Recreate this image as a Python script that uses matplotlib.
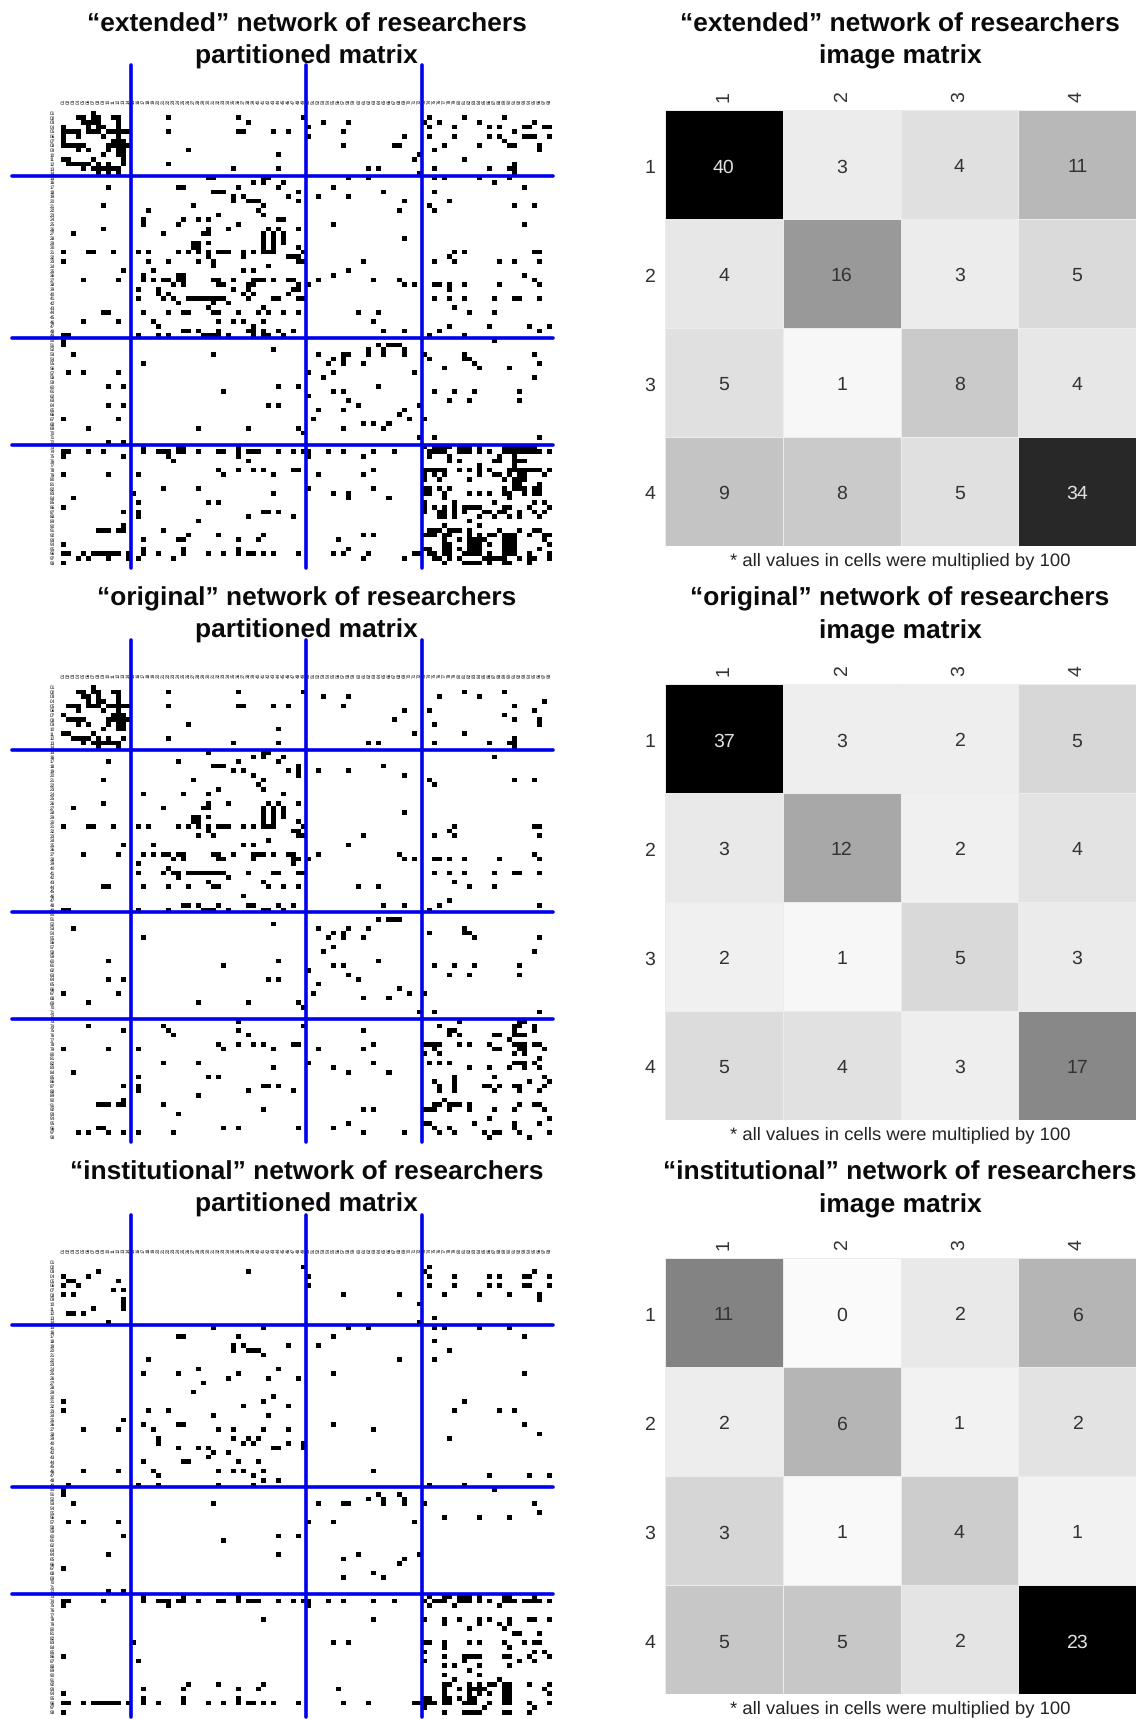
import numpy as np
import matplotlib
matplotlib.use("Agg")
import matplotlib.pyplot as plt

plt.rcParams['font.family'] = ['Liberation Sans', 'DejaVu Sans']
plt.rcParams['text.hinting'] = 'none'

W, H = 1137, 1719
N = 98

# ties per row: row index -> columns with a tie
ext_ties = {
    0: [6], 1: [3, 4, 6, 7, 10, 11, 21, 35, 48, 73, 80, 88],
    2: [4, 5, 6, 7, 11, 37, 52, 57, 72, 75, 83, 94],
    3: [0, 5, 7, 8, 11, 49, 73, 78, 85, 87, 92, 93, 96, 97],
    4: [0, 1, 2, 3, 5, 6, 7, 9, 10, 11, 12, 13, 21, 35, 36, 42, 45, 56, 90],
    5: [0, 3, 8, 11, 49, 68, 73, 78, 85, 87, 92, 93, 94, 97],
    6: [0, 10, 11, 12, 88],
    7: [0, 1, 2, 3, 4, 9, 10, 11, 12, 13, 56, 66, 67, 76, 83, 89, 90, 95],
    8: [3, 5, 9, 11, 12, 25, 74, 95], 9: [8, 11, 12, 43, 71],
    10: [0, 1, 6, 12, 70, 80], 11: [1, 2, 3, 4, 5, 7, 9, 12, 21, 90],
    12: [4, 6, 7, 8, 9, 10, 11, 34, 43, 61, 63, 74, 85, 89, 90],
    13: [7, 9, 11, 71, 90], 14: [29, 30, 40, 41, 57, 61, 74, 76, 83, 89],
    15: [38, 40, 44, 86], 16: [9, 23, 24, 35, 43, 54, 92],
    17: [30, 31, 32, 47, 64, 74], 18: [34, 36, 45, 51, 57],
    19: [34, 37, 38, 39, 47, 68, 77], 20: [8, 26, 40, 73, 90, 94],
    21: [17, 39, 67, 74], 22: [31, 40], 23: [16, 24, 27, 29, 43, 44],
    24: [16, 23, 35, 54, 92], 25: [8, 29, 33, 41, 43, 47],
    26: [2, 20, 28, 29, 40, 42, 44], 27: [40, 42, 44, 68],
    28: [26, 27, 29, 40, 42, 44], 29: [26, 27, 40, 42, 47],
    30: [0, 5, 6, 10, 15, 17, 23, 25, 27, 29, 31, 32, 33, 36, 38, 40, 41, 42, 48, 78, 80, 94, 95],
    31: [29, 36, 45, 46, 47, 77],
    32: [0, 17, 21, 27, 30, 47, 48, 60, 74, 78, 87, 90, 95],
    33: [30, 41], 34: [12, 18, 36, 38, 57], 35: [16, 23, 24, 54, 92],
    36: [4, 11, 16, 18, 20, 21, 23, 24, 30, 31, 34, 38, 39, 40, 42, 45, 46, 51, 62, 67, 94],
    37: [22, 24, 31, 32, 37, 38, 47, 49, 68, 70, 74, 75, 77, 80, 87, 95],
    38: [15, 19, 34, 37, 46, 47, 77], 39: [19, 21, 36, 38, 45],
    40: [15, 20, 22, 25, 26, 27, 28, 29, 30, 31, 32, 37, 42, 43, 47, 48, 74, 77, 80, 86, 90, 91, 95],
    41: [23, 30, 33], 42: [29, 40, 78],
    43: [8, 9, 16, 21, 24, 25, 30, 31, 35, 39, 41, 44, 47, 59, 63, 81, 86],
    45: [4, 11, 18, 31, 34, 36, 40, 62], 46: [19, 38, 77, 85, 93, 97],
    47: [24, 25, 27, 31, 37, 38, 40, 43, 46, 64, 68, 75, 95],
    48: [0, 1, 15, 19, 21, 28, 29, 30, 31, 33, 38, 40, 41, 44, 73, 80],
    49: [0, 86], 50: [0, 63, 65, 66, 67], 51: [42, 61, 64, 68],
    52: [2, 30, 51, 56, 57, 61, 64, 68, 72, 80, 94],
    53: [54, 56, 73, 80, 81], 54: [16, 53, 56, 60, 82, 95], 55: [76, 83, 89],
    56: [1, 4, 11, 49, 54, 70], 57: [52, 94], 59: [9, 12, 43, 47, 63],
    60: [32, 54, 56, 74, 78, 82, 91], 61: [49], 62: [57, 77, 81, 91],
    63: [9, 12, 41, 43, 59, 71], 64: [51, 56, 68], 65: [67],
    66: [0, 11, 50, 69, 72], 67: [60, 62, 65], 68: [5, 27, 37, 47, 56, 64],
    69: [48], 70: [71, 74, 95], 71: [9, 12],
    72: [16, 23, 24, 35, 72, 74, 75, 76, 77, 79, 80, 81, 83, 88, 89, 90, 91, 92, 93, 94],
    73: [0, 1, 5, 8, 16, 19, 20, 21, 23, 24, 27, 31, 32, 35, 37, 38, 39, 43, 46, 48, 49, 53, 56, 62, 66,
         73, 74, 75, 76, 79, 80, 81, 83, 85, 88, 89, 90, 91, 92, 93, 94, 95, 97],
    74: [0, 12, 21, 35, 49, 60, 73, 77, 87, 90],
    75: [22, 37, 77, 79, 86, 87, 90, 91, 92], 76: [83, 90],
    77: [31, 35, 38, 40, 46, 47, 62, 72, 73, 74, 75, 76, 79, 81, 83, 85, 89, 90, 91, 92, 93, 94, 95, 97],
    78: [0, 9, 15, 32, 42, 51, 60, 72, 74, 76, 83, 86, 87, 89, 91, 92, 96],
    79: [72, 75, 81, 88, 90, 91, 92], 80: [90, 91, 95],
    81: [20, 27, 49, 62, 72, 73, 75, 77, 88, 90, 91, 92, 94, 95],
    82: [14, 42, 54, 57, 72, 73, 76, 81, 83, 85, 88, 89, 92, 94, 95],
    83: [2, 57, 65, 76, 89], 84: [15, 29, 31, 72, 78, 86, 94, 96],
    85: [0, 72, 74, 76, 78, 80, 81, 82, 83, 88, 89, 93, 97],
    86: [12, 15, 40, 41, 43, 72, 75, 76, 78, 80, 84, 85, 87, 88, 91, 94, 96],
    87: [15, 37, 46, 75, 76, 78, 83, 86, 89, 91, 95], 88: [27, 81],
    89: [12, 76, 83],
    90: [7, 8, 9, 11, 12, 20, 73, 74, 75, 77, 78, 79, 81, 87, 91, 94, 95],
    91: [25, 31, 40, 60, 62, 72, 73, 74, 76, 77, 81, 83, 85, 86, 88, 89, 90, 93, 96, 97],
    92: [16, 23, 24, 35, 39, 55, 76, 79, 81, 82, 83, 84, 88, 89, 90, 96],
    93: [0, 76, 77, 81, 82, 83, 85, 88, 89, 90, 97],
    94: [16, 24, 35, 57, 72, 73, 76, 77, 79, 81, 82, 83, 88, 89, 90, 95],
    95: [0, 1, 4, 6, 7, 8, 9, 10, 11, 13, 16, 19, 24, 29, 32, 35, 37, 38, 40, 42, 47, 54, 56, 61, 70, 71,
         73, 74, 76, 77, 80, 81, 82, 83, 85, 88, 89, 90, 93, 97],
    96: [3, 5, 9, 13, 15, 22, 60, 68, 74, 75, 77, 79, 84, 85, 86, 87, 88, 91, 93, 94, 97],
    97: [0, 76, 80, 81, 82, 83, 85, 88, 89, 93],
}

orig_ties = {
    0: [6], 1: [3, 4, 6, 7, 10, 11, 21, 35, 48, 80, 88],
    2: [4, 5, 7, 11, 52, 57, 75, 83], 3: [5, 7, 8, 11, 96],
    4: [1, 2, 3, 5, 6, 7, 9, 10, 11, 12, 13, 21, 35, 36, 42, 45, 56, 90],
    5: [3, 8, 11, 68, 73, 94], 6: [0, 10, 11, 12, 88],
    7: [1, 2, 3, 4, 9, 10, 11, 12, 13, 66, 90, 95],
    8: [3, 5, 9, 11, 12, 25, 74, 95], 9: [8, 11, 12, 43],
    10: [0, 1, 6, 70, 80], 11: [2, 3, 4, 5, 7, 9, 12, 21, 90],
    12: [4, 6, 7, 8, 9, 10, 11, 34, 43, 61, 63, 74, 85, 89, 90],
    13: [7, 11, 90], 14: [29, 40, 41], 15: [38, 40, 44, 86],
    16: [9, 23, 35, 43], 17: [30, 31, 32, 47, 64],
    18: [34, 36, 45, 47, 51, 57], 19: [38, 47, 68],
    20: [8, 26, 40, 73, 90, 94], 21: [39, 74], 22: [31, 40],
    23: [16, 24, 29, 44], 25: [8, 29, 33, 41, 43, 47],
    26: [2, 20, 28, 29, 40, 42, 44], 27: [40, 42, 44, 68],
    28: [26, 27, 29, 40, 42, 44], 29: [26, 27, 40, 42, 47],
    30: [0, 5, 6, 10, 15, 17, 23, 25, 27, 29, 31, 32, 33, 36, 38, 40, 41, 42, 48, 78, 94, 95],
    31: [29, 46, 47, 77], 32: [27, 30, 47, 48, 60, 74, 78, 95], 33: [41],
    34: [12, 18, 36, 38, 57],
    36: [4, 11, 16, 18, 20, 21, 23, 24, 30, 31, 34, 38, 39, 40, 42, 45, 46, 51, 67, 94],
    37: [22, 24, 31, 32, 38, 46, 47, 49, 68, 70, 74, 75, 77, 80, 87, 95],
    38: [15, 46], 39: [21],
    40: [15, 20, 22, 23, 25, 26, 27, 28, 29, 30, 31, 32, 37, 42, 43, 47, 48, 74, 77, 80, 86, 90, 91, 95],
    41: [23, 33], 42: [29, 40, 78],
    43: [8, 9, 16, 21, 25, 30, 31, 41, 44, 47, 59, 63, 81, 86], 45: [36], 46: [77],
    47: [24, 25, 27, 31, 37, 38, 43, 46, 64, 68, 75, 95],
    48: [0, 1, 15, 21, 28, 29, 30, 33, 40, 41, 44, 73],
    50: [63, 65, 66, 67], 51: [42], 52: [2, 51, 57, 61, 80],
    53: [54, 56, 73, 80, 81], 54: [16, 53, 56, 60, 82, 95], 56: [54],
    57: [52, 94], 59: [9, 43, 63], 60: [32, 54, 56, 74, 78, 82, 91], 61: [49],
    62: [57, 77, 81, 91], 63: [9, 12, 41, 43, 59], 64: [51], 65: [67],
    66: [0, 11, 50, 69, 72], 67: [60, 65], 68: [5, 27, 37, 47], 69: [48],
    70: [71, 74, 95], 72: [35, 79, 91, 92],
    73: [5, 20, 48, 75, 90, 91, 94], 74: [12, 21, 35, 60, 77, 78, 90, 94],
    75: [22, 37, 77, 79, 86, 87, 90, 91, 92], 76: [89],
    77: [31, 35, 38, 40, 46, 47, 62, 72, 73, 74, 75, 79, 81, 85, 90, 91, 92, 94, 95],
    78: [0, 9, 15, 32, 42, 51, 60, 74, 86, 87, 91, 92, 96],
    79: [72, 75, 90, 92], 80: [95],
    81: [20, 27, 49, 62, 73, 75, 77, 90, 91, 92, 94],
    82: [42, 54, 81, 85, 89, 92, 95], 83: [2, 57, 65],
    84: [15, 29, 31, 78, 86, 96], 85: [74, 78, 93, 97],
    86: [12, 15, 40, 41, 43, 75, 78, 84, 85, 87, 90, 91, 96],
    87: [15, 37, 46, 75, 78, 86, 91, 95], 88: [27], 89: [12, 76],
    90: [7, 8, 9, 11, 12, 20, 74, 75, 77, 78, 79, 81, 91, 94, 95],
    91: [40, 60, 62, 72, 73, 74, 77, 81, 86, 90, 96], 92: [23],
    93: [85, 97], 94: [57, 72, 73, 82, 90, 95],
    95: [7, 8, 32, 35, 47, 54, 74, 77, 90],
    96: [3, 5, 9, 12, 15, 22, 60, 68, 75, 78, 84, 86, 87, 91, 97],
    97: [85, 93],
}

inst_ties = {
    1: [48, 73], 2: [7, 37, 72, 94],
    3: [0, 5, 49, 73, 78, 85, 87, 92, 93, 97], 4: [1, 2, 11],
    5: [0, 3, 49, 73, 78, 85, 87, 92, 93, 97], 6: [10, 12],
    7: [0, 2, 56, 67, 76, 83, 89, 95], 8: [12, 95], 9: [12, 71], 10: [6, 12],
    11: [1, 2, 4], 12: [74], 13: [9, 71], 14: [30, 40, 57, 61, 74, 76, 83, 89],
    16: [23, 24, 35, 54, 92], 17: [74], 18: [34, 36, 45, 51],
    19: [34, 37, 38, 39, 77], 20: [40], 21: [17, 67, 74], 23: [27, 43],
    24: [16, 23, 35, 54, 92], 25: [33, 41, 47], 26: [28], 28: [26], 29: [42],
    30: [0, 40, 80], 31: [36, 45], 32: [0, 17, 21, 78, 87, 90], 33: [30, 41],
    34: [12], 35: [16, 23, 24, 54, 92], 36: [4, 11, 18, 31, 34, 40, 45, 62],
    37: [95], 38: [19, 34, 37, 39, 77], 39: [19, 36, 38, 45, 48],
    40: [23, 27, 29, 42, 43, 48], 41: [30, 33], 42: [29],
    43: [16, 24, 25, 35, 39], 45: [4, 11, 18, 31, 34, 36, 40, 62],
    46: [19, 38, 85, 93, 97], 47: [40, 43], 48: [1, 15, 19, 31, 38, 73, 80],
    49: [0, 86], 50: [0, 63, 67], 51: [61, 64, 68],
    52: [2, 30, 51, 56, 57, 64, 68, 72, 94], 54: [95], 55: [76, 83, 89],
    56: [1, 4, 11, 49, 54, 70], 59: [12, 43, 47], 60: [32],
    63: [9, 43, 59, 71], 64: [56, 68], 65: [67], 66: [0], 67: [62],
    68: [56, 64], 71: [9, 12],
    72: [16, 24, 35, 73, 76, 77, 79, 80, 81, 83, 88, 89, 94],
    73: [0, 1, 8, 16, 19, 20, 21, 23, 24, 27, 31, 32, 35, 37, 38, 39, 43, 46, 48, 49, 53, 56, 62, 66,
         72, 74, 75, 76, 79, 80, 81, 83, 85, 88, 89, 90, 92, 93, 94, 95, 97],
    74: [0, 21, 49, 73, 78, 87],
    77: [40, 62, 72, 76, 79, 83, 85, 89, 93, 94, 97], 78: [76, 83, 87, 89],
    79: [81, 88], 80: [90, 91, 95],
    82: [14, 54, 57, 72, 73, 76, 81, 83, 88, 92, 94, 95], 83: [76, 89],
    84: [72, 94, 96], 85: [0, 76, 80, 81, 82, 83, 88, 89, 93, 97],
    86: [15, 72, 80, 91, 94], 87: [76, 78, 83, 89], 88: [81], 89: [76, 83],
    90: [78, 87],
    91: [25, 31, 40, 76, 77, 81, 83, 85, 86, 88, 89, 93, 97],
    92: [16, 24, 35, 39, 55, 76, 79, 81, 82, 83, 84, 88, 89, 96],
    93: [0, 76, 81, 83, 85, 88, 89, 97],
    94: [16, 24, 35, 72, 73, 76, 77, 79, 81, 82, 88, 89],
    95: [0, 1, 4, 6, 7, 8, 9, 10, 11, 13, 16, 19, 24, 29, 32, 35, 37, 38, 40, 42, 47, 56, 61, 70, 71,
         72, 73, 74, 76, 77, 80, 81, 82, 85, 88, 89, 93, 97],
    96: [72, 84, 94], 97: [0, 76, 80, 81, 82, 83, 88, 89, 93],
}

# block limits inside the partitioned matrices
cuts = [13.5, 48.5, 71.5]

# numbers printed in the image matrices, and the density that sets each shade
ext_vals = [[40, 3, 4, 11], [4, 16, 3, 5], [5, 1, 8, 4], [9, 8, 5, 34]]
orig_vals = [[37, 3, 2, 5], [3, 12, 2, 4], [2, 1, 5, 3], [5, 4, 3, 17]]
inst_vals = [[11, 0, 2, 6], [2, 6, 1, 2], [3, 1, 4, 1], [5, 5, 2, 23]]
ext_dens = [[40, 3.0, 4.9, 11.1], [3.9, 16.0, 3.0, 5.8], [4.9, 1.4, 8.3, 3.9], [9.3, 8.3, 4.9, 33.7]]
orig_dens = [[37, 2.6, 2.6, 5.8], [3.2, 12.6, 2.2, 4.1], [2.2, 1.3, 5.5, 3.0], [5.1, 4.4, 2.6, 17.3]]
inst_dens = [[11.2, 0.5, 2.0, 6.7], [1.7, 6.7, 1.2, 2.6], [3.7, 0.6, 4.5, 1.2], [5.1, 5.1, 2.5, 23]]

names = ["extended", "original", "institutional"]
block_labels = ["1", "2", "3", "4"]
# actor ids are too small to read in the picture
actor_ids = [f"{i + 1:02d}" for i in range(N)]


def px_axes(fig, left, top, right, bottom):
    return fig.add_axes([left / W, 1 - bottom / H, (right - left) / W, (bottom - top) / H])


def draw_partition(fig, ties, top):
    ax = px_axes(fig, 60.5, top, 552, top + 454.5)
    m = np.zeros((N, N))
    for r, cols in ties.items():
        m[r, cols] = 1
    ax.pcolormesh(np.arange(N + 1) - 0.5, np.arange(N + 1) - 0.5, m, cmap='gray_r',
                  vmin=0, vmax=1, antialiased=True)
    ax.set_xlim(-0.5, N - 0.5)
    ax.set_ylim(N - 0.5, -0.5)
    ax.xaxis.tick_top()
    ax.set_xticks(range(N), actor_ids, rotation=90, fontsize=3.4, color='#000000')
    ax.set_yticks(range(N), actor_ids, fontsize=3.4, color='#000000')
    ax.tick_params(axis='x', length=0, pad=5)
    ax.tick_params(axis='y', length=0, pad=4)
    for s in ax.spines.values():
        s.set_visible(False)
    for c in cuts:
        ax.plot([c, c], [-10.3, 98], color='#0000ee', lw=2.6, clip_on=False, solid_capstyle='round', zorder=5)
        ax.plot([-10.1, 97.6], [c, c], color='#0000ee', lw=2.6, clip_on=False, solid_capstyle='round', zorder=5)


def draw_image(fig, vals, dens, top, bottom):
    ax = px_axes(fig, 665, top, 1136, bottom)
    d = np.array(dens)
    ax.pcolormesh(np.arange(5), np.arange(5), d, cmap='gray_r', vmin=0, vmax=d.max(),
                  edgecolors='#ececec', linewidth=0.4)
    ax.set_xlim(0, 4)
    ax.set_ylim(4, 0)
    for r in range(4):
        for c in range(4):
            col = '#e0e0e0' if d[r, c] > 0.6 * d.max() else '#333333'
            ax.text(c + 0.5, r + 0.525, str(vals[r][c]), ha='center', va='center', fontsize=14, color=col)
    ax.xaxis.tick_top()
    ax.set_xticks(np.arange(4) + 0.5, block_labels, rotation=90, fontsize=14, color='#333333')
    ax.set_yticks(np.arange(4) + 0.51, block_labels, fontsize=14, color='#333333')
    ax.tick_params(axis='x', length=0, pad=6)
    ax.tick_params(axis='y', length=0, pad=7)
    for s in ax.spines.values():
        s.set_visible(False)


def title(fig, x, y1, y2, line1, line2):
    for y, t in ((y1, line1), (y2, line2)):
        fig.text(x / W, 1 - y / H, t, ha='center', va='baseline', fontsize=19, fontweight='bold', color='#0a0a0a')


fig = plt.figure(figsize=(W / 100, H / 100), dpi=100)

panels = [
    (ext_ties, ext_vals, ext_dens, 110.7, 110.3, 545.7, 32, 63.5, 560.5),
    (orig_ties, orig_vals, orig_dens, 685, 684.3, 1119.7, 605.5, 638, 1134.5),
    (inst_ties, inst_vals, inst_dens, 1260, 1258.3, 1694.3, 1180, 1212, 1708.8),
]
for name, (ties, vals, dens, m_top, i_top, i_bot, y1, y2, y_note) in zip(names, panels):
    draw_partition(fig, ties, m_top)
    draw_image(fig, vals, dens, i_top, i_bot)
    head = f"\u201c{name}\u201d network of researchers"
    title(fig, 306.5, y1, y2, head, "partitioned matrix")
    title(fig, 900, y1, y2, head, "image matrix")
    fig.text(900 / W, 1 - y_note / H, "* all values in cells were multiplied by 100", ha='center', va='center',
             fontsize=13.3, color='#222222')

fig.savefig("out.png", dpi=100)
